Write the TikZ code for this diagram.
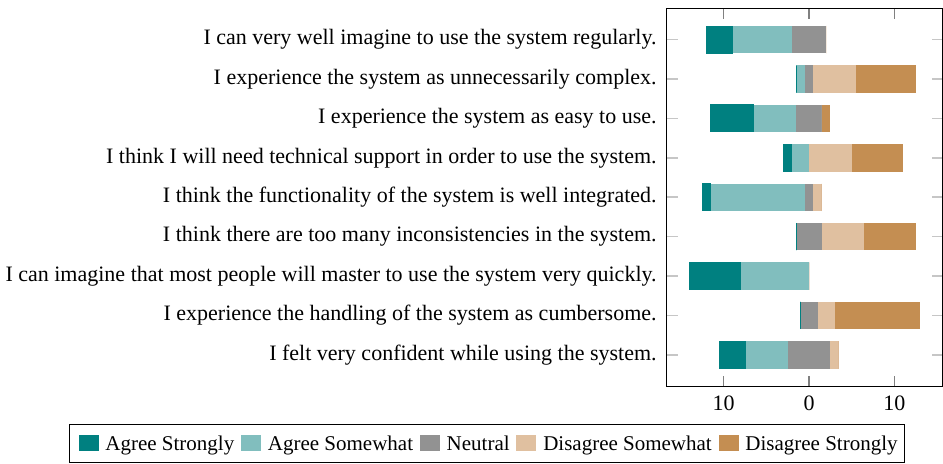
\documentclass[tikz,border=0pt]{standalone}
\usepackage{fontspec}
\setmainfont{Liberation Serif}
\usetikzlibrary{positioning}

\definecolor{agreeStr}{RGB}{0,128,128}
\definecolor{agreeSom}{RGB}{129,190,190}
\definecolor{neutral}{RGB}{146,146,146}
\definecolor{disSom}{RGB}{224,192,160}
\definecolor{disStr}{RGB}{196,142,82}

\begin{document}
\begin{tikzpicture}[x=0.5pt,y=-0.5pt,font=\fontsize{11}{13}\selectfont,
    swatch/.style={minimum width=10pt,minimum height=8pt,inner sep=0pt},
    legtext/.style={inner sep=0pt,anchor=west,font=\fontsize{10.5}{12}\selectfont,
      text height=9pt,text depth=1.3pt},
    question/.style={anchor=east,inner sep=0pt},
    tickgrey/.style={gray!45,line width=0.8pt}]
  \useasboundingbox (0,0) rectangle (943,464);

  % bars, one row for each question
  \foreach \q/\as/\aw/\nt/\ds/\dd [count=\i] in {
      {I can very well imagine to use the system regularly.}/3/7/4/0/0,
      {I experience the system as unnecessarily complex.}/0/1/1/5/7,
      {I experience the system as easy to use.}/5/5/3/0/1,
      {I think I will need technical support in order to use the system.}/1/2/0/5/6,
      {I think the functionality of the system is well integrated.}/1/11/1/1/0,
      {I think there are too many inconsistencies in the system.}/0/0/3/5/6,
      {I can imagine that most people will master to use the system very quickly.}/6/8/0/0/0,
      {I experience the handling of the system as cumbersome.}/0/0/2/2/10,
      {I felt very confident while using the system.}/3/5/5/1/0}{
    \pgfmathsetmacro\y{39.7+39.4*(\i-1)}
    \pgfmathsetmacro\xa{809-8.53*(\as+\aw+\nt/2)}
    \pgfmathsetmacro\xb{\xa+8.53*\as}
    \pgfmathsetmacro\xc{\xb+8.53*\aw}
    \pgfmathsetmacro\xd{\xc+8.53*\nt}
    \pgfmathsetmacro\xe{\xd+8.53*\ds}
    \pgfmathsetmacro\xf{\xe+8.53*\dd}
    \fill[agreeSom] (\xb,\y-13.75) rectangle (\xc,\y+13.75);
    \fill[neutral] (\xc,\y-13.75) rectangle (\xd,\y+13.75);
    \fill[disSom] (\xd,\y-13.75) rectangle (\xe,\y+13.75);
    \fill[disStr] (\xe,\y-13.75) rectangle (\xf,\y+13.75);
    \filldraw[fill=agreeStr,draw=agreeStr,line width=0.5pt] (\xa,\y-13.5) rectangle (\xb,\y+13.5);
    \node[question] (q\i) at (657,\y) {\q};
    \draw[tickgrey] (666.7,\y) -- ++(11,0);
    \draw[tickgrey] (942.7,\y) -- ++(-11,0);
  }

  % axis
  \foreach \v/\t [count=\k] in {-10/10,0/0,10/10}{
    \draw[gray,line width=0.6pt] ({809+8.53*\v},8.3) -- ++(0,11);
    \draw[gray,line width=0.6pt] ({809+8.53*\v},386.7) -- ++(0,-11);
    \node (tick\k) at ({809+8.53*\v},403) {\t};
  }
  \draw[line width=0.6pt] (666.7,8.3) rectangle (942.7,386.7);

  % legend
  \node[swatch,fill=agreeStr] (l1) at (88.6,443) {};
  \node[legtext,right=3pt of l1] (t1) {Agree Strongly};
  \node[swatch,fill=agreeSom,right=3pt of t1] (l2) {};
  \node[legtext,right=3pt of l2] (t2) {Agree Somewhat};
  \node[swatch,fill=neutral,right=3pt of t2] (l3) {};
  \node[legtext,right=3pt of l3] (t3) {Neutral};
  \node[swatch,fill=disSom,right=3pt of t3] (l4) {};
  \node[legtext,right=3pt of l4] (t4) {Disagree Somewhat};
  \node[swatch,fill=disStr,right=3pt of t4] (l5) {};
  \node[legtext,right=3pt of l5] (t5) {Disagree Strongly};
  \draw[line width=0.6pt] (69.3,424.7) rectangle (904.3,462.7);
\end{tikzpicture}
\end{document}
